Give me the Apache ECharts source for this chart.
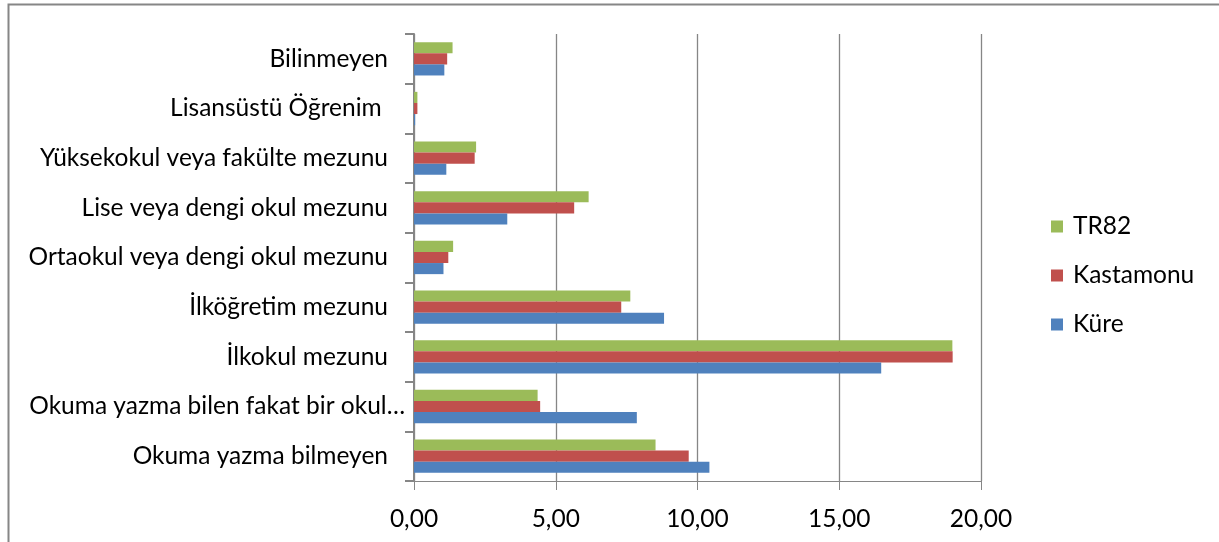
<!DOCTYPE html>
<html>
<head>
<meta charset="utf-8">
<script src="https://cdn.jsdelivr.net/npm/echarts@6/dist/echarts.min.js"></script>
<style>
html,body{margin:0;padding:0;background:#fff;}
#chart{width:1219px;height:542px;}
</style>
</head>
<body>
<div id="chart"></div>
<script>
const categories = [
  'Okuma yazma bilmeyen',
  'Okuma yazma bilen fakat bir okul…',
  'İlkokul mezunu',
  'İlköğretim mezunu',
  'Ortaokul veya dengi okul mezunu',
  'Lise veya dengi okul mezunu',
  'Yüksekokul veya fakülte mezunu',
  'Lisansüstü Öğrenim ',
  'Bilinmeyen'
];
const kure      = [10.42, 7.86, 16.48, 8.82, 1.04, 3.29, 1.14, 0.04, 1.07];
const kastamonu = [9.69, 4.45, 19.00, 7.31, 1.21, 5.65, 2.14, 0.12, 1.17];
const tr82      = [8.52, 4.36, 18.99, 7.63, 1.38, 6.16, 2.19, 0.12, 1.36];
const xTicks = [0, 5, 10, 15, 20];

const FONT = 'Lato';
const FS = 24.5;
const chart = echarts.init(document.getElementById('chart'), null, {renderer: 'canvas'});
const gray = '#868686';
chart.setOption({
  animation: false,
  backgroundColor: '#fff',
  textStyle: {fontFamily: FONT},
  graphic: [{
    type: 'rect',
    shape: {x: 8.5, y: 4.5, width: 1230, height: 560},
    style: {fill: null, stroke: gray, lineWidth: 2},
    silent: true
  }],
  legend: {
    orient: 'vertical',
    left: 1046,
    top: 209,
    itemWidth: 12,
    itemHeight: 12,
    itemGap: 24,
    icon: 'rect',
    data: ['TR82', 'Kastamonu', 'Küre'],
    textStyle: {fontFamily: FONT, fontSize: FS, lineHeight: 24, color: '#000', padding: [0, 0, 0, 5]}
  },
  grid: {left: 414, right: 1219 - 981, top: 34, bottom: 542 - 481, containLabel: false},
  xAxis: {
    type: 'value',
    min: xTicks[0],
    max: xTicks[xTicks.length - 1],
    interval: 5,
    axisLine: {show: true, lineStyle: {color: gray, width: 1}},
    axisTick: {show: true, length: 9, lineStyle: {color: gray}},
    splitLine: {show: true, lineStyle: {color: gray, width: 1.3}},
    axisLabel: {
      margin: 26,
      fontFamily: FONT, fontSize: FS, color: '#000',
      formatter: v => v.toFixed(2).replace('.', ',')
    }
  },
  yAxis: {
    type: 'category',
    data: categories,
    axisLine: {show: true, lineStyle: {color: gray, width: 2}},
    axisTick: {show: true, length: 9, lineStyle: {color: gray, width: 2}},
    axisLabel: {
      margin: 9,
      fontFamily: FONT, fontSize: FS, color: '#000',
      formatter: v => v.endsWith('…') ? '{t|' + v + '}' : '{n|' + v + '}',
      rich: {
        t: {fontFamily: FONT, fontSize: FS, color: '#000'},
        n: {fontFamily: FONT, fontSize: FS, color: '#000', padding: [0, 17, 0, 0]}
      }
    }
  },
  series: [
    {name: 'TR82', type: 'bar', data: tr82, itemStyle: {color: '#9BBB59'}, barGap: '0%', barCategoryGap: '33%'},
    {name: 'Kastamonu', type: 'bar', data: kastamonu, itemStyle: {color: '#C0504D'}, barGap: '0%', barCategoryGap: '33%'},
    {name: 'Küre', type: 'bar', data: kure, itemStyle: {color: '#4F81BD'}, barGap: '0%', barCategoryGap: '33%'}
  ]
});
</script>
</body>
</html>
